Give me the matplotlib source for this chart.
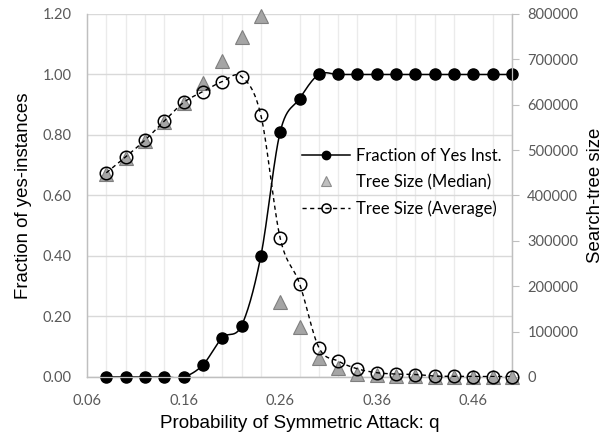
import matplotlib.pyplot as plt
import numpy as np
from matplotlib.ticker import FuncFormatter

# probability of symmetric attack
q = [0.08, 0.10, 0.12, 0.14, 0.16, 0.18, 0.20, 0.22, 0.24, 0.26, 0.28,
     0.30, 0.32, 0.34, 0.36, 0.38, 0.40, 0.42, 0.44, 0.46, 0.48, 0.50]

frac_yes = [0.0, 0.0, 0.0, 0.0, 0.0, 0.04, 0.13, 0.17, 0.40, 0.81, 0.92,
            1.0, 1.0, 1.0, 1.0, 1.0, 1.0, 1.0, 1.0, 1.0, 1.0, 1.0]

tree_median = [447000, 483000, 519000, 561000, 603000, 647000, 696000, 750000,
               796000, 165000, 111000, 41000, 19000, 6000, 4000, 3000, 2000,
               1000, 1000, 1000, 1000, 1000]

tree_avg = [450000, 485000, 522000, 564000, 605000, 629000, 651000, 662000,
            577000, 306000, 206000, 65000, 35000, 18000, 9500, 6500, 5500,
            2000, 1500, 1000, 1000, 1000]

xtick_labels = ['0.06', '0.16', '0.26', '0.36', '0.46']

TICK_FONT = 'Lato'
TITLE_FONT = 'Liberation Sans'
TICK_COLOR = '#595959'


def smooth(xs, ys, n=25):
    # excel style smoothed line: bezier segments through every point
    xs = np.asarray(xs, float)
    ys = np.asarray(ys, float)
    px = np.concatenate([[xs[0]], xs, [xs[-1]]])
    py = np.concatenate([[ys[0]], ys, [ys[-1]]])
    t = np.linspace(0, 1, n)
    out_x, out_y = [], []
    for i in range(len(xs) - 1):
        p0 = np.array([px[i], py[i]])
        p1 = np.array([px[i + 1], py[i + 1]])
        p2 = np.array([px[i + 2], py[i + 2]])
        p3 = np.array([px[i + 3], py[i + 3]])
        c1 = p1 + (p2 - p0) / 6.0
        c2 = p2 - (p3 - p1) / 6.0
        for tt in t:
            b = ((1 - tt) ** 3) * p1 + 3 * ((1 - tt) ** 2) * tt * c1 \
                + 3 * (1 - tt) * tt ** 2 * c2 + tt ** 3 * p2
            out_x.append(b[0])
            out_y.append(b[1])
    return out_x, out_y


fig = plt.figure(figsize=(6.08, 4.37), dpi=100)
ax = fig.add_axes([0.1431, 0.1373, 0.699, 0.8307])
ax2 = ax.twinx()

# fraction of yes instances (left axis)
sx, sy = smooth(q, frac_yes)
ax.plot(sx, sy, color='black', lw=1.1, zorder=3)
ax.plot(q, frac_yes, 'o', color='black', ms=8, clip_on=False, zorder=4)

# tree sizes (right axis)
ax2.plot(q, tree_median, '^', color='#A5A5A5', mec='#7F7F7F', mew=0.8,
         ms=10, clip_on=False, zorder=3)
sx, sy = smooth(q, tree_avg)
ax2.plot(sx, sy, color='black', lw=1.0, ls=(0, (3, 2.5)), zorder=4)
ax2.plot(q, tree_avg, 'o', mfc='none', mec='black', mew=1.1, ms=9,
         clip_on=False, zorder=5)

ax.set_xlim(0.06, 0.50)
ax.set_ylim(0, 1.2)
ax2.set_ylim(0, 800000)

ax.set_xticks([0.06, 0.16, 0.26, 0.36, 0.46])
ax.set_xticklabels(xtick_labels)
ax.set_xticks([0.06 + 0.02 * k for k in range(23)], minor=True)
ax.set_yticks([0.0, 0.2, 0.4, 0.6, 0.8, 1.0, 1.2])
ax.yaxis.set_major_formatter(FuncFormatter(lambda v, p: '%.2f' % v))
ax2.set_yticks([0, 100000, 200000, 300000, 400000, 500000, 600000, 700000, 800000])
ax2.yaxis.set_major_formatter(FuncFormatter(lambda v, p: '%d' % v))

ax.grid(True, axis='y', color='#D9D9D9', lw=1.0)
ax.grid(True, axis='x', which='minor', color='#EBEBEB', lw=1.0)
ax.set_axisbelow(True)

ax.tick_params(axis='x', which='both', length=0, pad=12)
ax.tick_params(axis='y', length=0, pad=11)
ax2.tick_params(axis='y', length=5, width=0.8, color='#BFBFBF', pad=6)
for lab in ax.get_xticklabels() + ax.get_yticklabels() + ax2.get_yticklabels():
    lab.set_fontfamily(TICK_FONT)
    lab.set_fontsize(10.5)
    lab.set_color(TICK_COLOR)

for a in (ax, ax2):
    for s in a.spines.values():
        s.set_color('#BFBFBF')
        s.set_linewidth(0.9)
    a.spines['top'].set_visible(False)

ax.set_xlabel('Probability of Symmetric Attack: q', fontfamily=TITLE_FONT,
              fontsize=13.6, labelpad=5)
ax.set_ylabel('Fraction of yes-instances', fontfamily=TITLE_FONT, fontsize=13.4,
              labelpad=8)
ax2.set_ylabel('Search-tree size', fontfamily=TITLE_FONT, fontsize=13.4, labelpad=6)

h1 = plt.Line2D([], [], color='black', lw=1.1, marker='o', ms=6)
h2 = plt.Line2D([], [], ls='none', marker='^', color='#BFBFBF', mec='#8C8C8C',
                mew=0.8, ms=7)
h3 = plt.Line2D([], [], color='black', lw=1.0, ls=(0, (3, 2.5)), marker='o',
                mfc='none', mec='black', mew=1.1, ms=6.5)
leg = ax2.legend([h1, h2, h3],
                 ['Fraction of Yes Inst.', 'Tree Size (Median)', 'Tree Size (Average)'],
                 loc='upper left', bbox_to_anchor=(0.506, 0.632), frameon=False,
                 handlelength=2.85, handletextpad=0.4, labelspacing=0.62,
                 borderpad=0.0, borderaxespad=0.0,
                 prop={'family': TICK_FONT, 'size': 12})
leg.set_zorder(10)

fig.savefig('out.png', dpi=100)
